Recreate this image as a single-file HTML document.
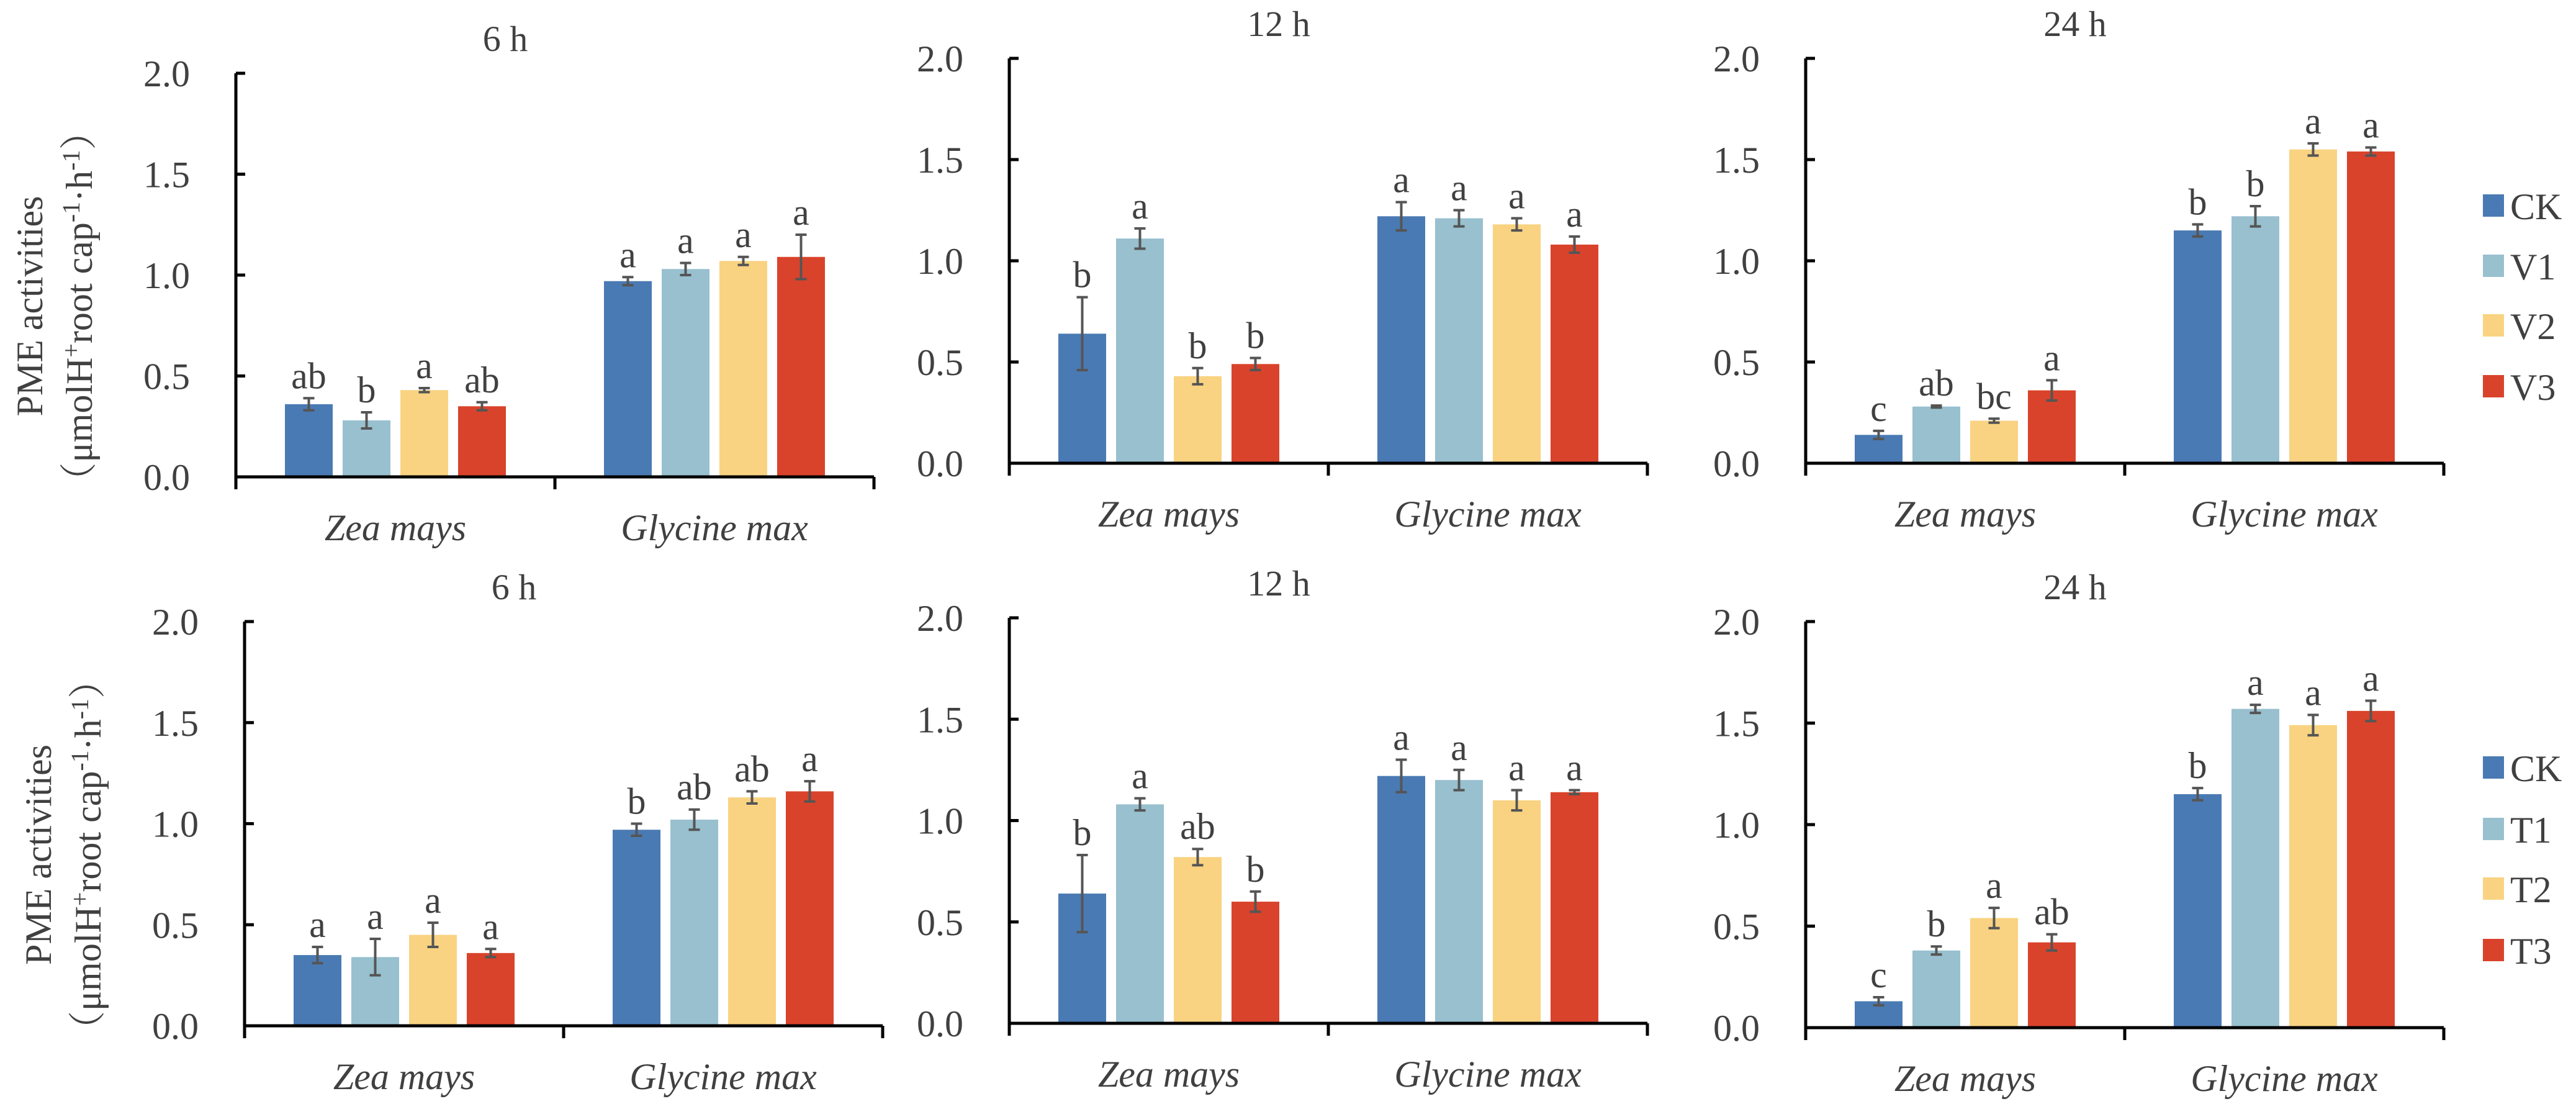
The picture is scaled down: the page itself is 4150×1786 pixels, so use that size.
<!DOCTYPE html>
<html><head><meta charset="utf-8">
<style>
html,body{margin:0;padding:0;background:#fff;}
svg{display:block;}
text{font-family:"Liberation Serif","Noto Serif CJK SC",serif;fill:#404040;}
</style></head>
<body>
<svg id="chart" width="4150" height="1786" viewBox="0 0 4150 1786" xmlns="http://www.w3.org/2000/svg"></svg>
<script>
const categories = ["Zea mays", "Glycine max"];
const colors = ["#4a7ab3", "#98c0cf", "#f9d381", "#d9432b"];
const legendTop = ["CK", "V1", "V2", "V3"];
const legendBottom = ["CK", "T1", "T2", "T3"];
const yTicks = [0, 0.5, 1.0, 1.5, 2.0];
const titles = ["6 h", "12 h", "24 h", "6 h", "12 h", "24 h"];
// values [panel][category][series]
const v6V = [[0.36, 0.28, 0.43, 0.35], [0.97, 1.03, 1.07, 1.09]];
const e6V = [[0.03, 0.04, 0.01, 0.02], [0.02, 0.03, 0.02, 0.11]];
const l6V = [["ab", "b", "a", "ab"], ["a", "a", "a", "a"]];
const v12V = [[0.64, 1.11, 0.43, 0.49], [1.22, 1.21, 1.18, 1.08]];
const e12V = [[0.18, 0.05, 0.04, 0.03], [0.07, 0.04, 0.03, 0.04]];
const l12V = [["b", "a", "b", "b"], ["a", "a", "a", "a"]];
const v24V = [[0.14, 0.28, 0.21, 0.36], [1.15, 1.22, 1.55, 1.54]];
const e24V = [[0.02, 0.005, 0.01, 0.05], [0.03, 0.05, 0.03, 0.02]];
const l24V = [["c", "ab", "bc", "a"], ["b", "b", "a", "a"]];
const v6T = [[0.35, 0.34, 0.45, 0.36], [0.97, 1.02, 1.13, 1.16]];
const e6T = [[0.04, 0.09, 0.06, 0.02], [0.03, 0.05, 0.03, 0.05]];
const l6T = [["a", "a", "a", "a"], ["b", "ab", "ab", "a"]];
const v12T = [[0.64, 1.08, 0.82, 0.60], [1.22, 1.20, 1.10, 1.14]];
const e12T = [[0.19, 0.03, 0.04, 0.05], [0.08, 0.05, 0.05, 0.01]];
const l12T = [["b", "a", "ab", "b"], ["a", "a", "a", "a"]];
const v24T = [[0.13, 0.38, 0.54, 0.42], [1.15, 1.57, 1.49, 1.56]];
const e24T = [[0.02, 0.02, 0.05, 0.04], [0.03, 0.02, 0.05, 0.05]];
const l24T = [["c", "b", "a", "ab"], ["b", "a", "a", "a"]];

const panels = [
  {x0:380, yTop:118, yBot:768, vals:v6V, errs:e6V, lets:l6V, title:titles[0], ylab:true},
  {x0:1626, yTop:94, yBot:746, vals:v12V, errs:e12V, lets:l12V, title:titles[1]},
  {x0:2909, yTop:94, yBot:746, vals:v24V, errs:e24V, lets:l24V, title:titles[2], legend:legendTop, legY:[331,428,524,622]},
  {x0:394, yTop:1001, yBot:1652, vals:v6T, errs:e6T, lets:l6T, title:titles[3], ylab:true},
  {x0:1626, yTop:995, yBot:1648, vals:v12T, errs:e12T, lets:l12T, title:titles[4]},
  {x0:2909, yTop:1001, yBot:1655, vals:v24T, errs:e24T, lets:l24T, title:titles[5], legend:legendBottom, legY:[1236,1335,1431,1530]}
];
const NS = "http://www.w3.org/2000/svg";
const svg = document.getElementById("chart");
function mk(tag, attrs, parent, txt){
  const el = document.createElementNS(NS, tag);
  for (const k in attrs) el.setAttribute(k, attrs[k]);
  if (txt !== undefined) el.textContent = txt;
  (parent || svg).appendChild(el);
  return el;
}
const catW = 514, barW = 77, step = 93;
panels.forEach((p, pi) => {
  const g = mk("g", {});
  
  
  const y = v => p.yBot - (v / 2.0) * (p.yBot - p.yTop);
  const xEnd = p.x0 + 2 * catW;
  const t = mk("text", {x: p.x0 + catW - 80, y: (p.yTop - 36), "font-size": 58, "text-anchor": "middle"}, g, p.title);
  
  
  p.vals.forEach((cv, ci) => {
    const gx = p.x0 + ci * catW + (catW - (3 * step + barW)) / 2;
    cv.forEach((val, si) => {
      const bx = gx + si * step;
      const r = mk("rect", {x: bx, y: y(val), width: barW, height: p.yBot - y(val), fill: colors[si]}, g);
      
      
      const err = p.errs[ci][si];
      const cx = bx + barW / 2;
      const eg = mk("g", {stroke: "#555", "stroke-width": 4}, g);
      
      
      mk("line", {x1: cx, x2: cx, y1: y(val + err), y2: y(val - err)}, eg);
      mk("line", {x1: cx - 9, x2: cx + 9, y1: y(val + err), y2: y(val + err)}, eg);
      mk("line", {x1: cx - 9, x2: cx + 9, y1: y(val - err), y2: y(val - err)}, eg);
      const lt = mk("text", {x: cx, y: y(val + err) - 16, "font-size": 60, "text-anchor": "middle"}, g, p.lets[ci][si]);
      
      
    });
    const cl = mk("text", {x: p.x0 + ci * catW + catW / 2, y: p.yBot + 102, "font-size": 60, "font-style": "italic", "text-anchor": "middle"}, g, categories[ci]);
    
    
  });
  const ax = mk("g", {stroke: "#000", "stroke-width": 5, fill: "none"}, g);
  
  
  mk("line", {x1: p.x0, x2: p.x0, y1: p.yTop, y2: p.yBot + 20}, ax);
  mk("line", {x1: p.x0, x2: xEnd, y1: p.yBot, y2: p.yBot}, ax);
  mk("line", {x1: p.x0 + catW, x2: p.x0 + catW, y1: p.yBot, y2: p.yBot + 20}, ax);
  mk("line", {x1: xEnd, x2: xEnd, y1: p.yBot, y2: p.yBot + 20}, ax);
  yTicks.forEach(tv => {
    mk("line", {x1: p.x0, x2: p.x0 + 15, y1: y(tv), y2: y(tv)}, ax);
    const tl = mk("text", {x: p.x0 - 74, y: y(tv) + 21, "font-size": 60, "text-anchor": "end"}, g, tv.toFixed(1));
    
    
  });
  if (p.ylab) {
    const cy = (p.yTop + p.yBot) / 2 + 50;
    const y1 = mk("text", {x: 0, y: 0, "font-size": 60, "text-anchor": "middle", transform: `translate(${p.x0 - 312},${cy}) rotate(-90)`}, g, "PME activities");
    
    
    const y2 = mk("text", {x: 0, y: 0, "font-size": 60, "text-anchor": "middle", transform: `translate(${p.x0 - 232},${cy}) rotate(-90)`}, g);
    
    
    y2.innerHTML = '（μmolH<tspan dy="-20" font-size="40">+</tspan><tspan dy="20">root cap</tspan><tspan dy="-20" font-size="40">-1</tspan><tspan dy="20">·h</tspan><tspan dy="-20" font-size="40">-1</tspan><tspan dy="20">）</tspan>';
  }
  if (p.legend) {
    p.legend.forEach((name, i) => {
      const lg = mk("g", {}, g);
      
      
      mk("rect", {x: 4000, y: p.legY[i] - 18, width: 34, height: 36, fill: colors[i]}, lg);
      mk("text", {x: 4044, y: p.legY[i] + 22, "font-size": 60}, lg, name);
    });
  }
});
</script>
</body></html>
